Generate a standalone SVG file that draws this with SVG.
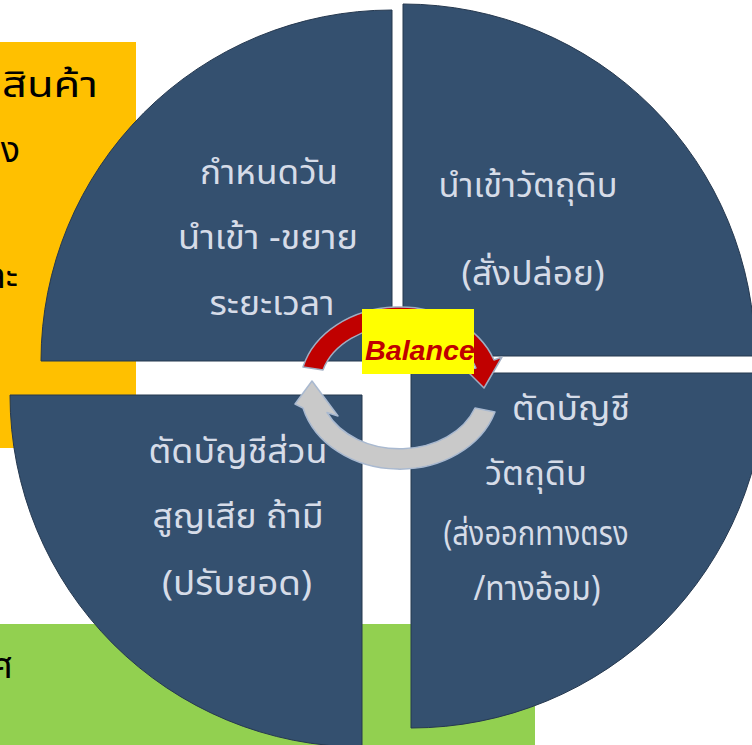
<svg xmlns="http://www.w3.org/2000/svg" width="752" height="745" viewBox="0 0 752 745">
<style>
.pie{fill:#34506f;stroke:#25384f;stroke-width:1}
.pt{font-family:"Noto Sans Thai","Noto Sans","DejaVu Sans",sans-serif;font-size:34px;fill:#d6dce8;text-anchor:middle}
.bt{font-family:"Noto Sans Thai","Noto Sans","DejaVu Sans",sans-serif;font-size:36px;fill:#000}
</style>
<rect width="752" height="745" fill="#ffffff"/>
<g id="side-boxes">
<rect x="0" y="42" width="136" height="406" fill="#ffc000"/>
<text class="bt" x="2" y="97" textLength="96" lengthAdjust="spacingAndGlyphs">สินค้า</text>
<text class="bt" x="20" y="162" text-anchor="end">จริง</text>
<text class="bt" x="18" y="288" text-anchor="end">และ</text>
<rect x="0" y="624" width="535" height="121" fill="#92d050"/>
<text class="bt" x="13" y="678" text-anchor="end">ศ</text>
</g>
<g id="node-tl">
<path class="pie" d="M392,361 L41,361 A351,351 0 0 1 392,10 Z"/>
<text class="pt" x="269" y="184" textLength="138" lengthAdjust="spacingAndGlyphs">กำหนดวัน</text>
<text class="pt" x="268" y="249" textLength="180" lengthAdjust="spacingAndGlyphs">นำเข้า -ขยาย</text>
<text class="pt" x="272" y="315" textLength="125" lengthAdjust="spacingAndGlyphs">ระยะเวลา</text>
</g>
<g id="node-tr">
<path class="pie" d="M403,356 L403,4 A352,352 0 0 1 755,356 Z"/>
<text class="pt" x="528" y="197" textLength="179" lengthAdjust="spacingAndGlyphs">นำเข้าวัตถุดิบ</text>
<text class="pt" x="533" y="285" textLength="143" lengthAdjust="spacingAndGlyphs">(สั่งปล่อย)</text>
</g>
<g id="node-br">
<path class="pie" d="M411,373 L766,373 A355,355 0 0 1 411,728 Z"/>
<text class="pt" x="571" y="420" textLength="118" lengthAdjust="spacingAndGlyphs">ตัดบัญชี</text>
<text class="pt" x="536" y="485" textLength="102" lengthAdjust="spacingAndGlyphs">วัตถุดิบ</text>
<text class="pt" x="536" y="545" textLength="185" lengthAdjust="spacingAndGlyphs">(ส่งออกทางตรง</text>
<text class="pt" x="537" y="600" textLength="127" lengthAdjust="spacingAndGlyphs">/ทางอ้อม)</text>
</g>
<g id="node-bl">
<path class="pie" d="M362,395 L362,747 A352,352 0 0 1 10,395 Z"/>
<text class="pt" x="238" y="463" textLength="179" lengthAdjust="spacingAndGlyphs">ตัดบัญชีส่วน</text>
<text class="pt" x="238" y="528" textLength="171" lengthAdjust="spacingAndGlyphs">สูญเสีย ถ้ามี</text>
<text class="pt" x="237" y="595" textLength="150" lengthAdjust="spacingAndGlyphs">(ปรับยอด)</text>
</g>
<g id="connectors">
<path d="M303,367 A100,80 0 0 1 494,360 L502,357 L484,388 L466,370 L476,368 A80,61 0 0 0 323,370 Z" fill="#c00000" stroke="#9fadc2" stroke-width="1.5" stroke-linejoin="round"/>
<path d="M495,412 A100,82 0 0 1 303,408 L295,404 L312,381 L338,416 L327,412.5 A80,62 0 0 0 475,408 Z" fill="#c9c9c9" stroke="#a9b9d0" stroke-width="1.5" stroke-linejoin="round"/>
</g>
<g id="balance-label">
<rect x="362" y="309" width="112" height="65" fill="#ffff00"/>
<text x="365" y="360" font-family="'Liberation Sans',Arial,sans-serif" font-size="28" font-weight="bold" font-style="italic" fill="#c00000" textLength="110" lengthAdjust="spacingAndGlyphs">Balance</text>
</g>
</svg>
